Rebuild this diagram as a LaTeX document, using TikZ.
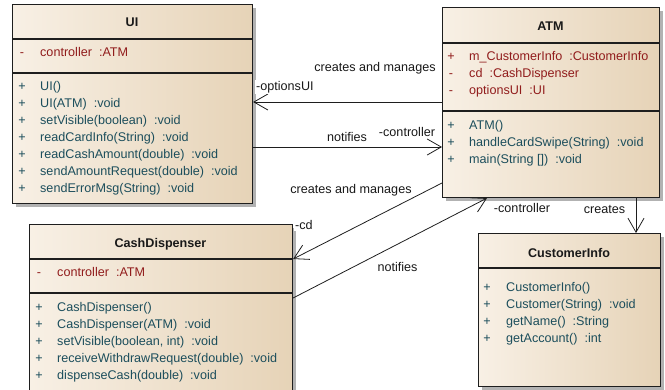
\documentclass[tikz,border=0pt]{standalone}
\usepackage{fontspec}
\setmainfont{Liberation Sans}
\usetikzlibrary{arrows.meta,shadows}

\definecolor{clsLight}{RGB}{248,240,229}
\definecolor{clsDark}{RGB}{230,211,183}
\definecolor{attrRed}{RGB}{145,28,28}
\definecolor{methTeal}{RGB}{28,78,92}
\definecolor{lineGray}{RGB}{30,30,30}

\tikzset{
  umlclass/.style={draw=lineGray, line width=1.1pt, left color=clsLight, right color=clsDark,
    anchor=north west, inner sep=0pt,
    drop shadow={shadow xshift=3.5pt, shadow yshift=-3.5pt, fill=black!30, opacity=1}},
  sepline/.style={draw=lineGray, line width=1.1pt},
  clstitle/.style={font=\fontsize{12.6pt}{15pt}\selectfont\bfseries, text=black!90},
  attrtxt/.style={anchor=west, inner sep=0pt, text height=9pt, text depth=3pt, text=attrRed},
  methtxt/.style={anchor=west, inner sep=0pt, text height=9pt, text depth=3pt, text=methTeal},
  sign/.style={inner sep=0pt, text height=9pt, text depth=3pt},
  rolelbl/.style={fill=white, inner sep=1pt, text=black!90},
  assoc/.style={draw=lineGray, line width=0.8pt, -{Straight Barb[length=14pt,width=16pt]}},
}

\begin{document}
\begin{tikzpicture}[x=1pt, y=-1pt, font=\fontsize{12.6pt}{15pt}\selectfont]
\useasboundingbox (0,0) rectangle (665,389);
\clip (0,0) rectangle (665,389);

\node[umlclass, minimum width=240pt, minimum height=199pt] (ui) at (12,4) {};
\draw[sepline] (ui.west |- 0,39) -- (ui.east |- 0,39) (ui.west |- 0,73) -- (ui.east |- 0,73);
\node[clstitle] (ui-t) at (132,22) {UI};
\node[sign, text=attrRed] (ui-s0) at (22,53) {-};
\node[attrtxt] (ui-a0) at (40,53) {controller~~:ATM};
\foreach \m [count=\i from 0] in {{UI()}, {UI(ATM)~~:void}, {setVisible(boolean)~~:void},
    {readCardInfo(String)~~:void}, {readCashAmount(double)~~:void},
    {sendAmountRequest(double)~~:void}, {sendErrorMsg(String)~~:void}}
  {\node[sign, text=methTeal] (ui-p\i) at (22,87+17*\i) {+};
   \node[methtxt] (ui-m\i) at (40,87+17*\i) {\m};}

\node[umlclass, minimum width=217pt, minimum height=190pt] (atm) at (442,7) {};
\draw[sepline] (atm.west |- 0,43) -- (atm.east |- 0,43) (atm.west |- 0,111) -- (atm.east |- 0,111);
\node[clstitle] (atm-t) at (550.5,26) {ATM};
\foreach \s/\a [count=\i from 0] in {+/{m\_CustomerInfo~~:CustomerInfo}, -/{cd~~:CashDispenser}, -/{optionsUI~~:UI}}
  {\node[sign, text=attrRed] (atm-s\i) at (451,57+17*\i) {\s};
   \node[attrtxt] (atm-a\i) at (469,57+17*\i) {\a};}
\foreach \m [count=\i from 0] in {{ATM()}, {handleCardSwipe(String)~~:void}, {main(String [])~~:void}}
  {\node[sign, text=methTeal] (atm-p\i) at (451,126+17*\i) {+};
   \node[methtxt] (atm-m\i) at (469,126+17*\i) {\m};}

\node[umlclass, minimum width=263pt, minimum height=172pt] (cd) at (29,224) {};
\draw[sepline] (cd.west |- 0,259) -- (cd.east |- 0,259) (cd.west |- 0,293) -- (cd.east |- 0,293);
\node[clstitle] (cd-t) at (160.5,244) {CashDispenser};
\node[sign, text=attrRed] (cd-s0) at (39,273) {-};
\node[attrtxt] (cd-a0) at (57,273) {controller~~:ATM};
\foreach \m [count=\i from 0] in {{CashDispenser()}, {CashDispenser(ATM)~~:void},
    {setVisible(boolean, int)~~:void}, {receiveWithdrawRequest(double)~~:void},
    {dispenseCash(double)~~:void}}
  {\node[sign, text=methTeal] (cd-p\i) at (39,308+17*\i) {+};
   \node[methtxt] (cd-m\i) at (57,308+17*\i) {\m};}

\node[umlclass, minimum width=182pt, minimum height=153pt] (ci) at (478,233) {};
\draw[sepline] (ci.west |- 0,268) -- (ci.east |- 0,268);
\node[clstitle] (ci-t) at (569,253) {CustomerInfo};
\foreach \m [count=\i from 0] in {{CustomerInfo()}, {Customer(String)~~:void},
    {getName()~~:String}, {getAccount()~~:int}}
  {\node[sign, text=methTeal] (ci-p\i) at (487,288+17*\i) {+};
   \node[methtxt] (ci-m\i) at (506,288+17*\i) {\m};}

\draw[assoc] (atm.west |- 0,102) -- (ui.east |- 0,102);
\draw[assoc] (ui.east |- 0,147) -- (atm.west |- 0,147);
\draw[assoc] (atm.west |- 0,183) -- (cd.east |- 0,259);
\draw[assoc] (cd.east |- 0,298) -- (atm.south -| 487,0);
\draw[assoc] (atm.south -| 636,0) -- (ci.north -| 636,0);

\node[rolelbl] (l-cm1) at (375,68) {creates and manages};
\node[rolelbl, anchor=west] (l-opt) at (255,87) {-optionsUI};
\node[rolelbl] (l-nt1) at (347,137) {notifies};
\node[rolelbl] (l-ctl1) at (407,132) {-controller};
\node[rolelbl] (l-cm2) at (351,190) {creates and manages};
\node[rolelbl, anchor=west] (l-cd) at (294,225) {-cd};
\node[rolelbl] (l-nt2) at (397.5,267) {notifies};
\node[rolelbl] (l-ctl2) at (522,208) {-controller};
\node[rolelbl] (l-cr) at (604.5,209) {creates};
\end{tikzpicture}
\end{document}
